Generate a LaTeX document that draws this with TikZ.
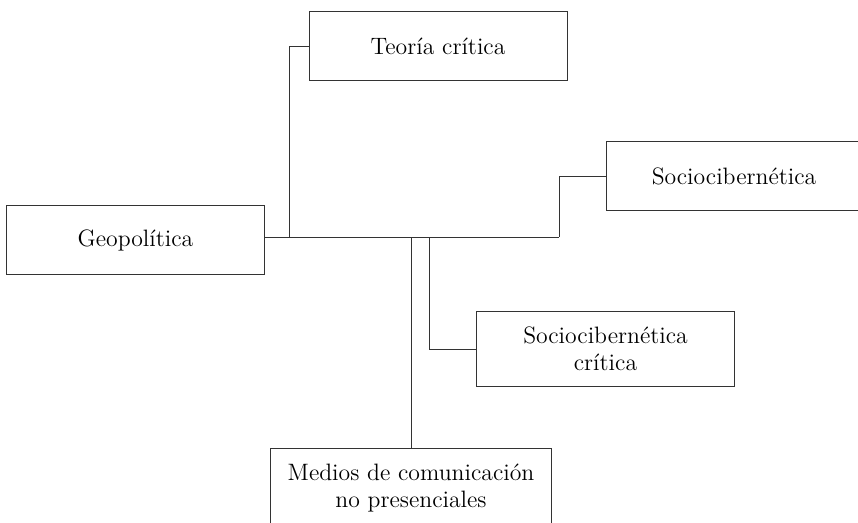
\documentclass[tikz,border=0pt]{standalone}
\usepackage{tikz}
\usetikzlibrary{positioning}
\definecolor{linegray}{rgb}{0.2,0.2,0.2}
\tikzstyle{Cbox}=[draw=linegray,line width=0.55pt,inner sep=0,align=center,
                  font=\fontsize{13.5}{15.5}\selectfont,minimum width=5.16cm,
                  minimum height=1.38cm]
\tikzstyle{Clink}=[draw=linegray,line width=0.55pt]

\begin{document}
\begin{tikzpicture}[x=0.02cm,y=-0.02cm]
\path[use as bounding box] (0,0) rectangle (858,522);

\node[Cbox] (teo) at (438,46) {Teoría crítica};
\node[Cbox] (geo) at (135.5,240) {Geopolítica};
\node[Cbox,minimum width=5.12cm] (soc) at (734,176) {Sociocibernética};
\node[Cbox,minimum height=1.5cm] (socc) at (605.5,349) {Sociocibernética\\crítica};
\node[Cbox,minimum width=5.62cm,minimum height=1.6cm] (med) at (411,488)
  {Medios de comunicación\\no presenciales};

\coordinate (hubL) at (289,237);
\coordinate (hubM) at (411,237);
\coordinate (hubC) at (429,237);
\coordinate (hubR) at (559,237);

\path[Clink]
 (geo.east |- hubL) -- (hubR)
 (teo.west) -| (hubL)
 (soc.west) -| (hubR)
 (hubC) |- (socc.west)
 (hubM) -- (med.north)
;

\end{tikzpicture}
\end{document}
